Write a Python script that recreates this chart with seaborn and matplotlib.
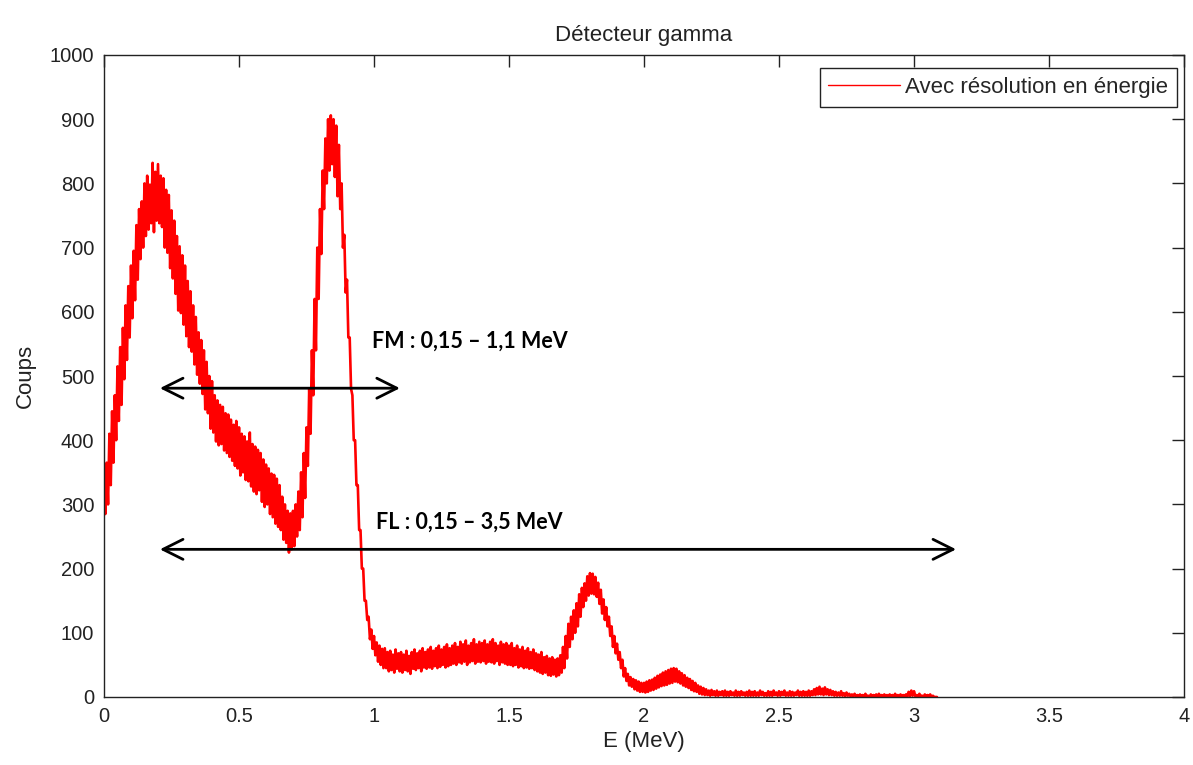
import numpy as np
import pandas as pd
import matplotlib
matplotlib.use("Agg")
import matplotlib.pyplot as plt
import seaborn as sns

# Gamma spectrum: for each 0.01 MeV channel, the lowest and highest count
# reached by the fluctuating signal.
channel_energy_mev = np.round(np.arange(0, 3.085, 0.01), 2)

counts_high = [
    330, 365, 410, 445, 470, 515, 545, 575, 610, 640,
    672, 695, 735, 760, 772, 800, 812, 798, 832, 818,
    830, 812, 808, 790, 782, 758, 742, 718, 702, 688,
    672, 648, 632, 610, 592, 568, 556, 540, 522, 500,
    492, 470, 462, 455, 452, 442, 440, 432, 424, 430,
    420, 410, 406, 398, 412, 394, 390, 385, 380, 370,
    362, 356, 348, 346, 340, 330, 312, 300, 290, 286,
    290, 300, 320, 350, 380, 420, 480, 540, 620, 700,
    760, 820, 870, 900, 906, 900, 890, 860, 800, 720,
    650, 560, 470, 400, 330, 260, 200, 150, 125, 105,
    95, 85, 80, 75, 76, 70, 72, 66, 74, 68,
    70, 66, 72, 64, 70, 74, 68, 72, 76, 70,
    74, 78, 72, 76, 80, 74, 78, 82, 76, 80,
    84, 78, 86, 82, 88, 80, 84, 90, 82, 86,
    84, 88, 82, 86, 90, 84, 80, 86, 82, 84,
    80, 84, 76, 80, 74, 78, 72, 76, 70, 74,
    68, 66, 70, 62, 64, 60, 62, 58, 60, 65,
    78, 95, 114, 125, 135, 146, 160, 170, 177, 188,
    193, 192, 187, 178, 167, 152, 140, 125, 110, 95,
    83, 70, 58, 45, 36, 31, 28, 26, 24, 22,
    22, 24, 26, 27, 30, 33, 35, 38, 40, 42,
    44, 45, 44, 40, 37, 34, 30, 28, 25, 22,
    18, 16, 14, 12, 10, 11, 9, 10, 8, 9,
    10, 8, 9, 7, 10, 8, 9, 7, 8, 10,
    8, 9, 7, 10, 8, 6, 9, 8, 10, 7,
    9, 8, 10, 7, 9, 8, 7, 10, 8, 9,
    8, 10, 9, 12, 14, 16, 13, 15, 12, 11,
    9, 8, 7, 9, 6, 7, 5, 4, 5, 3,
    4, 3, 5, 2, 4, 3, 4, 5, 3, 4,
    3, 4, 3, 5, 3, 4, 3, 4, 8, 10,
    9, 3, 5, 2, 4, 3, 4, 2, 0,
]

counts_low = [
    285, 300, 330, 365, 400, 430, 455, 495, 525, 560,
    590, 618, 650, 682, 700, 718, 728, 738, 724, 742,
    738, 732, 700, 692, 668, 652, 628, 602, 598, 580,
    562, 545, 538, 518, 502, 488, 472, 448, 442, 418,
    412, 398, 392, 394, 384, 380, 374, 368, 360, 356,
    345, 350, 338, 336, 328, 320, 316, 322, 304, 296,
    300, 285, 280, 270, 265, 260, 245, 240, 225, 230,
    235, 250, 260, 280, 310, 360, 410, 470, 540, 620,
    690, 760, 800, 820, 830, 810, 780, 760, 700, 630,
    560, 480, 400, 330, 260, 200, 150, 120, 90, 75,
    65, 55, 50, 45, 45, 40, 42, 38, 44, 40,
    38, 42, 40, 36, 44, 42, 45, 40, 46, 44,
    46, 44, 48, 45, 47, 50, 46, 48, 50, 52,
    50, 54, 52, 55, 50, 54, 56, 52, 55, 54,
    56, 52, 55, 54, 52, 56, 50, 54, 52, 50,
    50, 48, 50, 46, 48, 45, 46, 44, 45, 42,
    40, 38, 36, 38, 34, 33, 35, 32, 34, 38,
    45, 60, 78, 90, 100, 110, 125, 140, 150, 158,
    161, 160, 156, 145, 130, 120, 110, 95, 78, 68,
    58, 45, 32, 25, 18, 16, 12, 10, 8, 8,
    7, 8, 10, 11, 13, 15, 17, 18, 19, 21,
    22, 24, 23, 21, 18, 16, 14, 11, 9, 8,
    5, 4, 3, 3, 2, 3, 2, 2, 3, 2,
    2, 2, 3, 2, 2, 2, 3, 2, 2, 2,
    2, 2, 2, 3, 2, 2, 2, 2, 3, 2,
    2, 3, 2, 2, 2, 2, 3, 2, 2, 2,
    2, 2, 3, 3, 4, 4, 3, 4, 3, 3,
    2, 2, 2, 2, 1, 2, 1, 1, 1, 0,
    0, 0, 1, 0, 0, 1, 0, 1, 0, 1,
    0, 1, 0, 1, 0, 1, 0, 1, 1, 2,
    1, 0, 1, 0, 0, 1, 0, 0, 0,
]

x_ticks = [0, 0.5, 1, 1.5, 2, 2.5, 3, 3.5, 4]
x_tick_labels = ["0", "0.5", "1", "1.5", "2", "2.5", "3", "3.5", "4"]
y_ticks = list(range(0, 1001, 100))

# Windows with their labels: (start MeV, end MeV, height in counts, text)
window_fm = (0.207, 1.096, 481, "FM : 0,15 \u2013 1,1 MeV")
window_fl = (0.207, 3.156, 230, "FL : 0,15 \u2013 3,5 MeV")

# The trace swings between the low and high counts of each channel.
half_step = 0.005
trace = pd.DataFrame({
    "E": np.ravel(np.column_stack([channel_energy_mev, channel_energy_mev + half_step])),
    "Coups": np.ravel(np.column_stack([counts_high, counts_low])),
})

sns.set_theme(style="white")
plt.rcParams["font.family"] = ["Liberation Sans", "DejaVu Sans"]

fig, ax = plt.subplots(figsize=(11.93, 7.65), dpi=100)
fig.subplots_adjust(left=104 / 1193, right=1184 / 1193,
                    bottom=1 - 697 / 765, top=1 - 55 / 765)

sns.lineplot(data=trace, x="E", y="Coups", color="#ff0000", linewidth=1.9,
             estimator=None, sort=False, ax=ax, label="Avec r\u00e9solution en \u00e9nergie")

ax.set_xlim(0, 4)
ax.set_ylim(0, 1000)
ax.set_xticks(x_ticks)
ax.set_xticklabels(x_tick_labels)
ax.set_yticks(y_ticks)
ax.tick_params(direction="in", top=True, right=True, length=8.5, width=1.0,
               labelsize=14.5, pad=7, colors="#222222", labelcolor="#222222")
for spine in ax.spines.values():
    spine.set_visible(True)
    spine.set_color("#222222")
    spine.set_linewidth(1.0)

ax.set_title("D\u00e9tecteur gamma", fontsize=16, pad=10, color="#222222")
ax.set_xlabel("E (MeV)", fontsize=16, labelpad=4, color="#222222")
ax.set_ylabel("Coups", fontsize=16, labelpad=10, color="#222222")

legend = ax.legend(loc="upper right", bbox_to_anchor=(1073 / 1080, 629 / 642),
                   borderaxespad=0, frameon=True, fancybox=False, fontsize=16,
                   edgecolor="#222222", handlelength=3.2, handletextpad=0.25,
                   borderpad=0.4)
legend.get_frame().set_linewidth(1.0)
legend.get_frame().set_alpha(1.0)
for handle in legend.get_lines():
    handle.set_linewidth(1.0)

for start, end, level, text in (window_fm, window_fl):
    ax.annotate("", xy=(start, level), xytext=(end, level),
                arrowprops=dict(arrowstyle="<->,head_length=1.2,head_width=0.6",
                                lw=2.0, color="black", shrinkA=0, shrinkB=0))

ax.text(0.993, 554, window_fm[3], fontsize=15.5, fontweight="bold", va="center",
        ha="left", family=["Lato", "DejaVu Sans"], color="black")
ax.text(1.007, 272, window_fl[3], fontsize=15.5, fontweight="bold", va="center",
        ha="left", family=["Lato", "DejaVu Sans"], color="black")

fig.savefig("out.png", dpi=100, facecolor="white")
